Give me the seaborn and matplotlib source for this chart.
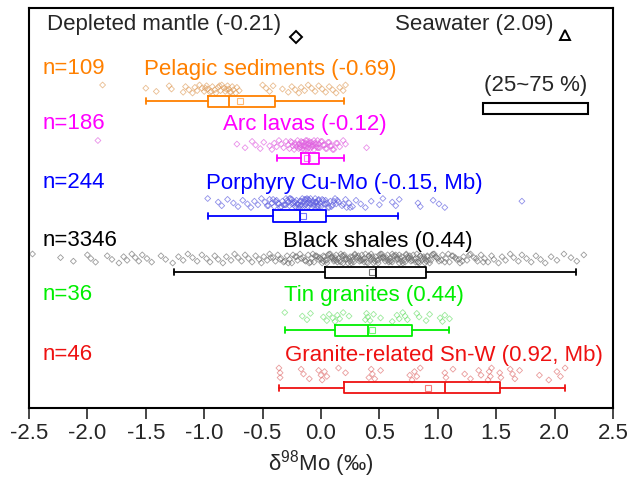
import numpy as np
import pandas as pd
import matplotlib
matplotlib.use("Agg")
import matplotlib.pyplot as plt
import seaborn as sns
from matplotlib.patches import Rectangle

# ---------------- data ----------------
groups = ["Pelagic sediments", "Arc lavas", "Porphyry Cu-Mo",
          "Black shales", "Tin granites", "Granite-related Sn-W"]
labels = ["Pelagic sediments (-0.69)", "Arc lavas (-0.12)", "Porphyry Cu-Mo (-0.15, Mb)",
          "Black shales (0.44)", "Tin granites (0.44)", "Granite-related Sn-W (0.92, Mb)"]
counts = [109, 186, 244, 3346, 36, 46]
colors = ["#FF8000", "#FF00FF", "#0000FF", "#000000", "#00EE00", "#EE1111"]

whis_lo = [-1.50, -0.38, -0.97, -1.26, -0.31, -0.36]
q1 = [-0.97, -0.17, -0.41, 0.03, 0.12, 0.20]
median = [-0.79, -0.10, -0.18, 0.47, 0.40, 1.06]
q3 = [-0.39, -0.02, 0.04, 0.90, 0.78, 1.53]
whis_hi = [0.20, 0.20, 0.66, 2.18, 1.10, 2.09]
mean = [-0.69, -0.12, -0.15, 0.44, 0.44, 0.92]

ref_names = ["Depleted mantle (-0.21)", "Seawater (2.09)"]
ref_values = [-0.21, 2.09]

pelagic_pts = [-1.87, -1.50, -1.41, -1.30, -1.28, -1.18, -1.16, -1.13, -1.10, -1.08, -1.06,
               -1.04, -1.02, -1.00, -0.98, -0.97, -0.95, -0.93, -0.91, -0.90, -0.88, -0.86,
               -0.85, -0.83, -0.82, -0.80, -0.79, -0.78, -0.76, -0.75, -0.73, -0.72, -0.70,
               -0.50, -0.47, -0.44, -0.41, -0.33, -0.28, -0.25, -0.22, -0.19, -0.17, -0.14,
               -0.11, -0.08, -0.05, -0.02, 0.01, 0.04, 0.07, 0.10, 0.13, 0.16, 0.19, 0.21,
               -0.99, -0.94, -0.87, -0.81, -0.77]
arc_pts = [-1.91, -0.72, -0.65, -0.59, -0.56, -0.52, -0.49, -0.44, -0.42, -0.40, -0.38,
           -0.36, -0.34, -0.32, -0.30, -0.28, -0.27, -0.25, -0.24, -0.23, -0.22, -0.21,
           -0.20, -0.19, -0.18, -0.17, -0.17, -0.16, -0.15, -0.15, -0.14, -0.13, -0.13,
           -0.12, -0.11, -0.11, -0.10, -0.09, -0.09, -0.08, -0.07, -0.06, -0.05, -0.04,
           -0.03, -0.02, -0.01, 0.00, 0.02, 0.04, 0.06, 0.08, 0.10, 0.13, 0.16, 0.19,
           0.21, 0.39, -0.26, -0.22, -0.19, -0.16, -0.14, -0.12, -0.10, -0.08, -0.06,
           -0.04, -0.02, 0.01, 0.03, 0.05, 0.07, 0.09, 0.11, 0.14, -0.18, -0.13, -0.07,
           -0.03]
porphyry_pts = [-0.97, -0.88, -0.85, -0.80, -0.75, -0.71, -0.67, -0.63, -0.60, -0.57,
                -0.54, -0.51, -0.48, -0.46, -0.44, -0.42, -0.40, -0.38, -0.36, -0.35,
                -0.33, -0.31, -0.30, -0.28, -0.27, -0.25, -0.24, -0.22, -0.21, -0.20,
                -0.19, -0.18, -0.17, -0.16, -0.15, -0.14, -0.13, -0.12, -0.11, -0.10,
                -0.09, -0.08, -0.07, -0.06, -0.05, -0.04, -0.03, -0.02, -0.01, 0.00,
                0.02, 0.04, 0.06, 0.08, 0.10, 0.12, 0.15, 0.18, 0.21, 0.24, 0.27, 0.30,
                0.34, 0.38, 0.43, 0.50, 0.53, 0.61, 0.64, 0.67, 0.83, 0.85, 0.96, 1.01,
                1.06, 1.72, -0.30, -0.26, -0.23, -0.18, -0.14, -0.10, -0.06, -0.02, 0.03,
                0.07, 0.11, -0.20, -0.12, -0.04, -0.45, -0.41, -0.37, -0.34, -0.29,
                -0.25, -0.21, -0.17, -0.13, -0.09, -0.05, -0.01, 0.01, 0.05, 0.09, 0.14,
                0.19, 0.25, -0.39, -0.32, -0.27, -0.22, -0.16, -0.11, -0.07, -0.03, 0.04,
                0.13, 0.22]
black_pts = [-2.47, -2.23, -2.12, -2.00, -1.97, -1.93, -1.83, -1.79, -1.73, -1.69, -1.66,
             -1.62, -1.59, -1.56, -1.53, -1.49, -1.45, -1.37, -1.33, -1.27, -1.22, -1.18,
             -1.14, -1.10, -1.06, -1.02, -0.98, -0.95, -0.91, -0.88, -0.84, -0.81, -0.77,
             -0.74, -0.71, -0.68, -0.65, -0.62, -0.59, -0.56, -0.53,
             -0.51, -0.49, -0.46, -0.44, -0.41, -0.39, -0.37, -0.34, -0.32, -0.29, -0.27,
             -0.25, -0.22, -0.20, -0.18, -0.15, -0.13, -0.11, -0.08, -0.06, -0.04, -0.02,
             0.01, 0.03, 0.05, 0.07, 0.09, 0.11, 0.13, 0.15, 0.17, 0.19, 0.21, 0.23, 0.25,
             0.27, 0.29, 0.31, 0.33, 0.35, 0.37, 0.39, 0.41, 0.43, 0.45, 0.47, 0.49, 0.51,
             0.53, 0.55, 0.57, 0.59, 0.61, 0.63, 0.65, 0.67, 0.69, 0.71, 0.73, 0.75, 0.77,
             0.79, 0.81, 0.83, 0.85, 0.87, 0.89, 0.91, 0.94, 0.96, 0.99, 1.01, 1.04, 1.07,
             1.10, 1.13, 1.16, 1.19, 1.22, 1.25, 1.28, 1.31, 1.34, 1.37, 1.40, 1.43, 1.46,
             -0.35, -0.28, -0.21, -0.14, -0.07, -0.01, 0.02, 0.06, 0.10, 0.14, 0.18, 0.22,
             0.26, 0.30, 0.34, 0.38, 0.42, 0.46, 0.50, 0.54, 0.58, 0.62, 0.66, 0.70, 0.74,
             0.78, 0.82, 0.86, 0.90, 0.95, 1.00, 1.06, 1.12, 1.18,
             -0.10, -0.03, 0.04, 0.08, 0.12, 0.16, 0.20, 0.24, 0.28, 0.32, 0.36, 0.40, 0.44,
             0.48, 0.52, 0.56, 0.60, 0.64, 0.68, 0.72, 0.76, 0.80, 0.84, 0.88, 0.92, 0.97,
             -0.43, -0.31, -0.24, -0.17, -0.09, -0.05, 0.00, 0.05, 0.09, 0.13, 0.17, 0.21,
             0.25, 0.29, 0.33, 0.37, 0.41, 0.45, 0.49, 0.53, 0.57, 0.61, 0.65, 0.69, 0.73,
             0.77, 0.81, 0.85, 0.89, 0.93, 0.98, 1.03, 1.09, 1.15, 1.21, 1.27, 1.33, 1.39,
             0.02, 0.11, 0.19, 0.27, 0.35, 0.43, 0.51, 0.59, 0.67, 0.75, 0.83, 0.91,
             1.48, 1.52, 1.55, 1.58, 1.62, 1.65, 1.69, 1.72, 1.76, 1.80, 1.84, 1.88, 1.92,
             1.97, 2.02, 2.08, 2.14, 2.19, 2.25]
tin_pts = [-0.31, -0.16, -0.12, -0.09, 0.02, 0.05, 0.07, 0.10, 0.12, 0.14, 0.16, 0.19,
           0.24, 0.38, 0.39, 0.40, 0.42, 0.45, 0.51, 0.61, 0.65, 0.67, 0.70, 0.72, 0.74,
           0.82, 0.84, 0.90, 0.93, 1.02, 1.04, 1.06, 1.10]
snw_pts = [-0.36, -0.35, -0.35, -0.17, -0.15, -0.10, -0.02, 0.00, 0.01, 0.03, 0.05, 0.15,
           0.21, 0.41, 0.43, 0.44, 0.46, 0.51, 0.76, 0.78, 0.80, 0.82, 0.85, 1.06, 1.07,
           1.13, 1.23, 1.28, 1.35, 1.37, 1.43, 1.44, 1.45, 1.46, 1.53, 1.54, 1.62, 1.64,
           1.66, 1.70, 1.87, 1.95, 2.02, 2.05, 2.09]
points = [pelagic_pts, arc_pts, porphyry_pts, black_pts, tin_pts, snw_pts]

xticks = [-2.5, -2.0, -1.5, -1.0, -0.5, 0.0, 0.5, 1.0, 1.5, 2.0, 2.5]

# ---------------- layout (y axis in pixel-like units, top = 8) ----------------
box_y = [101.5, 158.5, 216, 272.5, 330.5, 387.5]
pts_y = [89, 145, 203, 258.5, 317, 374]
lab_y = [70, 125, 184, 241, 296, 356]
lab_x = [-0.432, -0.141, 0.201, 0.488, 0.454, 1.049]
jit = [4, 4.5, 4.5, 4.5, 4.5, 6]

sns.set_style("white")
plt.rcParams["font.family"] = ["Liberation Sans", "DejaVu Sans"]
plt.rcParams["mathtext.fontset"] = "custom"
plt.rcParams["mathtext.rm"] = "Liberation Sans"
plt.rcParams["mathtext.it"] = "Liberation Sans:italic"

fig = plt.figure(figsize=(6.32, 4.86), dpi=100)
ax = fig.add_axes([29 / 632, 1 - 408 / 486, 584 / 632, 400 / 486])

# scatter points
rows = []
for g, pts, yc, j in zip(groups, points, pts_y, jit):
    n = len(pts)
    off = ((np.arange(n) * 37) % 11 - 5) / 5.0 * j
    for v, o in zip(pts, off):
        rows.append({"x": v, "y": yc + o, "group": g})
df = pd.DataFrame(rows)
pt_colors = ["#E0A060", "#E060E0", "#6060E0", "#707070", "#70E070", "#E07070"]
sns.scatterplot(data=df, x="x", y="y", hue="group", hue_order=groups,
                palette=dict(zip(groups, pt_colors)), marker="D", s=9,
                linewidth=0.6, legend=False, ax=ax)
coll = ax.collections[0]
fcs = coll.get_facecolors()
fcs[:, 3] = 0.7
coll.set_edgecolors(fcs)
coll.set_facecolors("none")

# boxes
for i, c in enumerate(colors):
    st = [dict(med=median[i], q1=q1[i], q3=q3[i], whislo=whis_lo[i],
               whishi=whis_hi[i], mean=mean[i], fliers=[])]
    lw = 1.3
    ax.bxp(st, positions=[box_y[i]], widths=11.5, orientation="horizontal",
           showmeans=True, showfliers=False, capwidths=6,
           boxprops=dict(color=c, linewidth=lw),
           whiskerprops=dict(color=c, linewidth=lw),
           capprops=dict(color=c, linewidth=lw),
           medianprops=dict(color=c, linewidth=lw),
           meanprops=dict(marker="s", markerfacecolor="none",
                          markeredgecolor=c, markeredgewidth=0.8,
                          markersize=5, alpha=0.55),
           manage_ticks=False)

# text labels
fs = 16
for i in range(len(groups)):
    ax.text(lab_x[i], lab_y[i], labels[i], color=colors[i], fontsize=fs,
            ha="center", va="center")
    ax.text(-2.385, lab_y[i] - 1, f"n={counts[i]}", color=colors[i], fontsize=fs,
            ha="left", va="center")

# reference values
ax.text(-1.34, 25, ref_names[0], fontsize=fs, ha="center", va="center")
ax.text(1.31, 25, ref_names[1], fontsize=fs, ha="center", va="center")
ax.plot([ref_values[0]], [37], marker="D", ms=6, mfc="none", mec="black", mew=1.4)
ax.plot([ref_values[1]], [35], marker="^", ms=7, mfc="none", mec="black", mew=1.4)

# box legend
ax.text(1.84, 86, "(25~75 %)", fontsize=fs, ha="center", va="center")
ax.add_patch(Rectangle((1.387, 103), 0.899, 11, fill=False, ec="black", lw=1.5))

ax.set_xlim(-2.5, 2.5)
ax.set_ylim(408, 8)
ax.set_xticks(xticks)
ax.set_xticklabels([f"{t:.1f}" for t in xticks], fontsize=fs)
ax.set_yticks([])
ax.set_ylabel("")
ax.set_xlabel("δ$^{98}$Mo (‰)", fontsize=fs, labelpad=3)
ax.tick_params(axis="x", direction="out", length=8, width=1.2, pad=3, bottom=True)
for sp in ax.spines.values():
    sp.set_visible(True)
    sp.set_color("black")
    sp.set_linewidth(1.5)

fig.savefig("out.png", dpi=100)
